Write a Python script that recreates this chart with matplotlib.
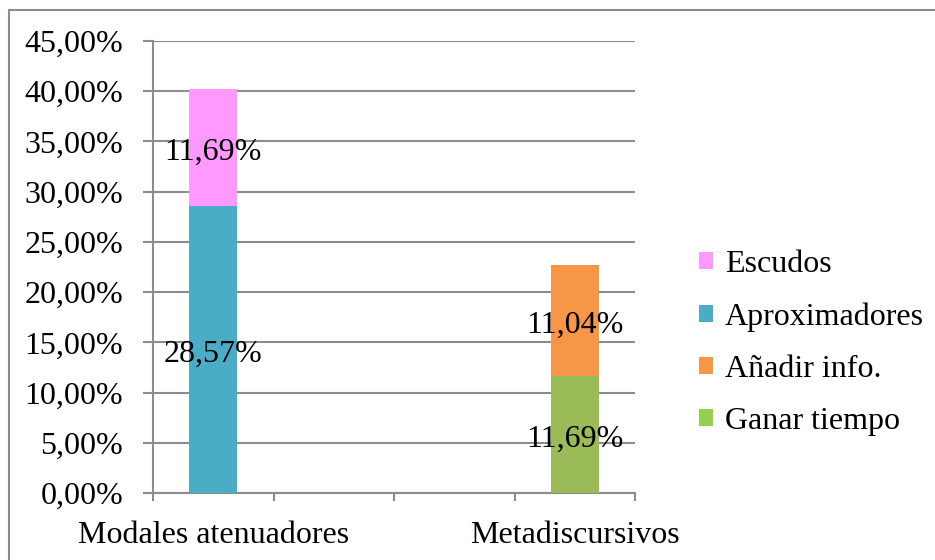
import matplotlib
matplotlib.use("Agg")
import matplotlib.pyplot as plt
from matplotlib.patches import Rectangle, Patch
import numpy as np

plt.rcParams['font.family'] = ['Liberation Serif', 'DejaVu Serif']

categories = ["Modales atenuadores", "", "", "Metadiscursivos"]
series_names = ["Ganar tiempo", "Añadir info.", "Aproximadores", "Escudos"]
ganar_tiempo = [0, 0, 0, 11.69]
anadir_info = [0, 0, 0, 11.04]
aproximadores = [28.57, 0, 0, 0]
escudos = [11.69, 0, 0, 0]
yticks = [0, 5, 10, 15, 20, 25, 30, 35, 40, 45]

bar_colors = ["#9BBB59", "#F79646", "#4BACC6", "#FF99FF"]
legend_colors = ["#92D050", "#F79646", "#4BACC6", "#FF99FF"]
grid_color = "#8C8C8C"
FS = 23

W, H = 935, 560
fig = plt.figure(figsize=(W / 100, H / 100), dpi=100)

# outer chart border (left and top edges visible)
fig.patches.append(Rectangle((9 / W, -0.1), 1.2, 1 - 10 / H + 0.1,
                             transform=fig.transFigure, fill=False,
                             edgecolor="#8C8C8C", linewidth=1.5))

ax = fig.add_axes([153 / W, (H - 493) / H, (635 - 153) / W, (493 - 41) / H])

x = np.arange(len(categories))
data = [ganar_tiempo, anadir_info, aproximadores, escudos]
bottom = np.zeros(len(categories))
for name, vals, col in zip(series_names, data, bar_colors):
    vals = np.array(vals, dtype=float)
    ax.bar(x, vals, width=0.4, bottom=bottom, color=col, zorder=3)
    for xi, v, b in zip(x, vals, bottom):
        if v > 0:
            ax.text(xi, b + v / 2 - 0.5, f"{v:.2f}%".replace(".", ","),
                    ha="center", va="center", fontsize=FS, zorder=4)
    bottom += vals

ax.set_ylim(0, 45)
ax.set_xlim(-0.5, len(categories) - 0.5)
ax.set_yticks(yticks)
ax.set_yticklabels([f"{t:.2f}%".replace(".", ",") for t in yticks], fontsize=FS)
ax.set_xticks(x)
ax.set_xticklabels(categories, fontsize=FS)
ax.set_xticks(np.arange(-0.5, len(categories)), minor=True)

ax.yaxis.grid(True, color=grid_color, linewidth=1.5, zorder=0)
ax.set_axisbelow(True)
for s in ["top", "right"]:
    ax.spines[s].set_visible(False)
for s in ["left", "bottom"]:
    ax.spines[s].set_color(grid_color)
    ax.spines[s].set_linewidth(1.5)

ax.tick_params(axis="y", direction="out", length=7.5, width=1.5,
               color=grid_color, pad=14)
ax.tick_params(axis="x", which="major", length=0, pad=20)
ax.tick_params(axis="x", which="minor", direction="out", length=6,
               width=1.5, color=grid_color)

handles = [Patch(facecolor=c, edgecolor="none") for c in legend_colors[::-1]]
fig.legend(handles, series_names[::-1], loc="center left",
           bbox_to_anchor=(699 / W, 1 - 343 / H), frameon=False, fontsize=FS,
           handlelength=0.43, handleheight=0.43, handletextpad=0.38,
           labelspacing=0.73, borderpad=0, borderaxespad=0)

fig.savefig("out.png", dpi=100)
